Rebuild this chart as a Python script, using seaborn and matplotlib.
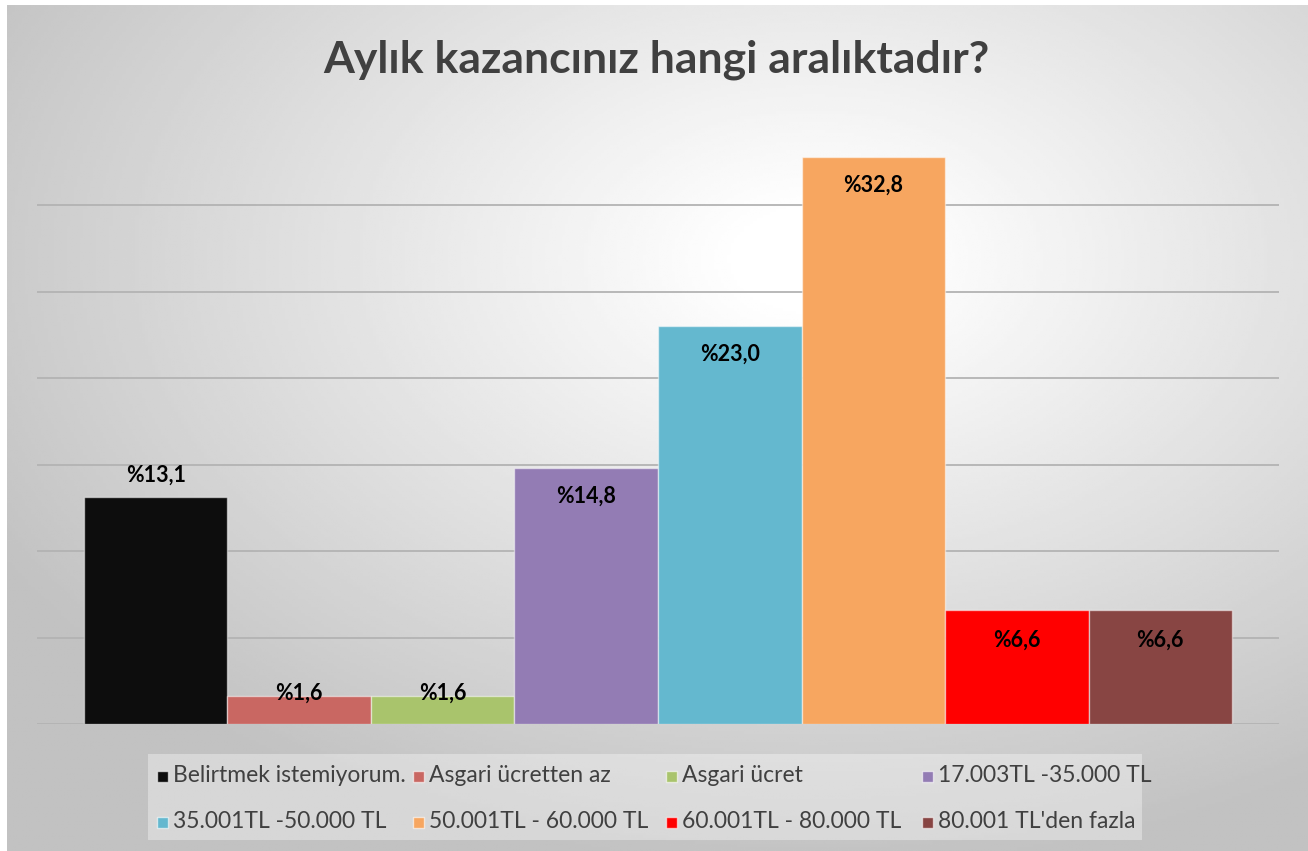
import numpy as np
import seaborn as sns
import matplotlib.pyplot as plt
from matplotlib.patches import Rectangle

# Veriler
kategoriler = ['Belirtmek istemiyorum.', 'Asgari ücretten az', 'Asgari ücret',
               '17.003TL -35.000 TL', '35.001TL -50.000 TL', '50.001TL - 60.000 TL',
               '60.001TL - 80.000 TL', "80.001 TL'den fazla"]
yuzdeler = [13.1, 1.6, 1.6, 14.8, 23.0, 32.8, 6.6, 6.6]
etiketler = ['%13,1', '%1,6', '%1,6', '%14,8', '%23,0', '%32,8', '%6,6', '%6,6']
renkler = ['#0d0d0d', '#c96762', '#a9c46c', '#937cb4', '#64b8cf', '#f7a660', '#ff0000', '#884543']

W, H = 1308, 851
fig = plt.figure(figsize=(W / 100, H / 100), dpi=100)
fig.patch.set_facecolor('white')

# Arka plan: radyal gri gradyan
bg = fig.add_axes([7 / W, 0, 1 - 7 / W, 1 - 5 / H])
xx, yy = np.meshgrid(np.linspace(0, 1, 400), np.linspace(0, 1, 300))
d = np.sqrt((xx - 0.62) ** 2 + (yy - 0.3) ** 2)
val = np.clip(1.02 - 0.36 * d, 0.76, 1.0)
bg.imshow(val, cmap='gray', vmin=0, vmax=1, aspect='auto', extent=[0, 1, 1, 0])
bg.axis('off')

# Grafik alanı
ax = fig.add_axes([37 / W, 1 - 724 / H, (1279 - 37) / W, (724 - 118.8) / H])
ax.set_facecolor('none')
sns.barplot(x=kategoriler, y=yuzdeler, hue=kategoriler, palette=renkler, saturation=1,
            width=1.0, legend=False, ax=ax, edgecolor=(1, 1, 1, 0.5), linewidth=1, zorder=3)
ax.set_ylim(0, 35)
ax.set_xlim(-0.5 - 0.3275, 7.5 + 0.3275)
ax.set_yticks(range(0, 35, 5))
ax.yaxis.grid(True, color='#b3b3b3', linewidth=1.3)
ax.set_axisbelow(True)
ax.set_xticks([])
ax.tick_params(left=False, labelleft=False)
for s in ax.spines.values():
    s.set_visible(False)
ax.set_xlabel('')
ax.set_ylabel('')

# Etiketler (piksel kaydırma: negatif = yukarı)
kaydirma = [-22, -3, -3, 28, 28, 28, 30, 30]
for i, (v, t) in enumerate(zip(yuzdeler, etiketler)):
    ax.annotate(t, (i, v), xytext=(0, -kaydirma[i] * 0.72), textcoords='offset points',
                ha='center', va='center', fontsize=15.5, fontweight='bold',
                family=['Lato', 'DejaVu Sans'], color='black', zorder=5)

# Başlık
fig.text(656 / W, 1 - 60 / H, 'Aylık kazancınız hangi aralıktadır?', ha='center', va='center',
         fontsize=32, fontweight='bold', family=['Lato', 'DejaVu Sans'], color='#404040')

# Lejant
fig.add_artist(Rectangle((148 / W, 1 - 840 / H), (1142 - 148) / W, 86 / H,
                         transform=fig.transFigure, facecolor='white', alpha=0.35,
                         edgecolor='none'))
kol_x = [157, 413, 666, 922]
satir_y = [776, 822]
for i, (k, r) in enumerate(zip(kategoriler, renkler)):
    x0 = kol_x[i % 4]
    y0 = satir_y[i // 4]
    fig.add_artist(Rectangle((x0 / W, 1 - (y0 + 5.5) / H), 11 / W, 11 / H,
                             transform=fig.transFigure, facecolor=r,
                             edgecolor=(1, 1, 1, 0.6), linewidth=1))
    fig.text((x0 + 16) / W, 1 - y0 / H, k, ha='left', va='center', fontsize=16.5,
             family=['Lato', 'DejaVu Sans'], color='#404040')

plt.savefig('out.png', dpi=100)
plt.close()
